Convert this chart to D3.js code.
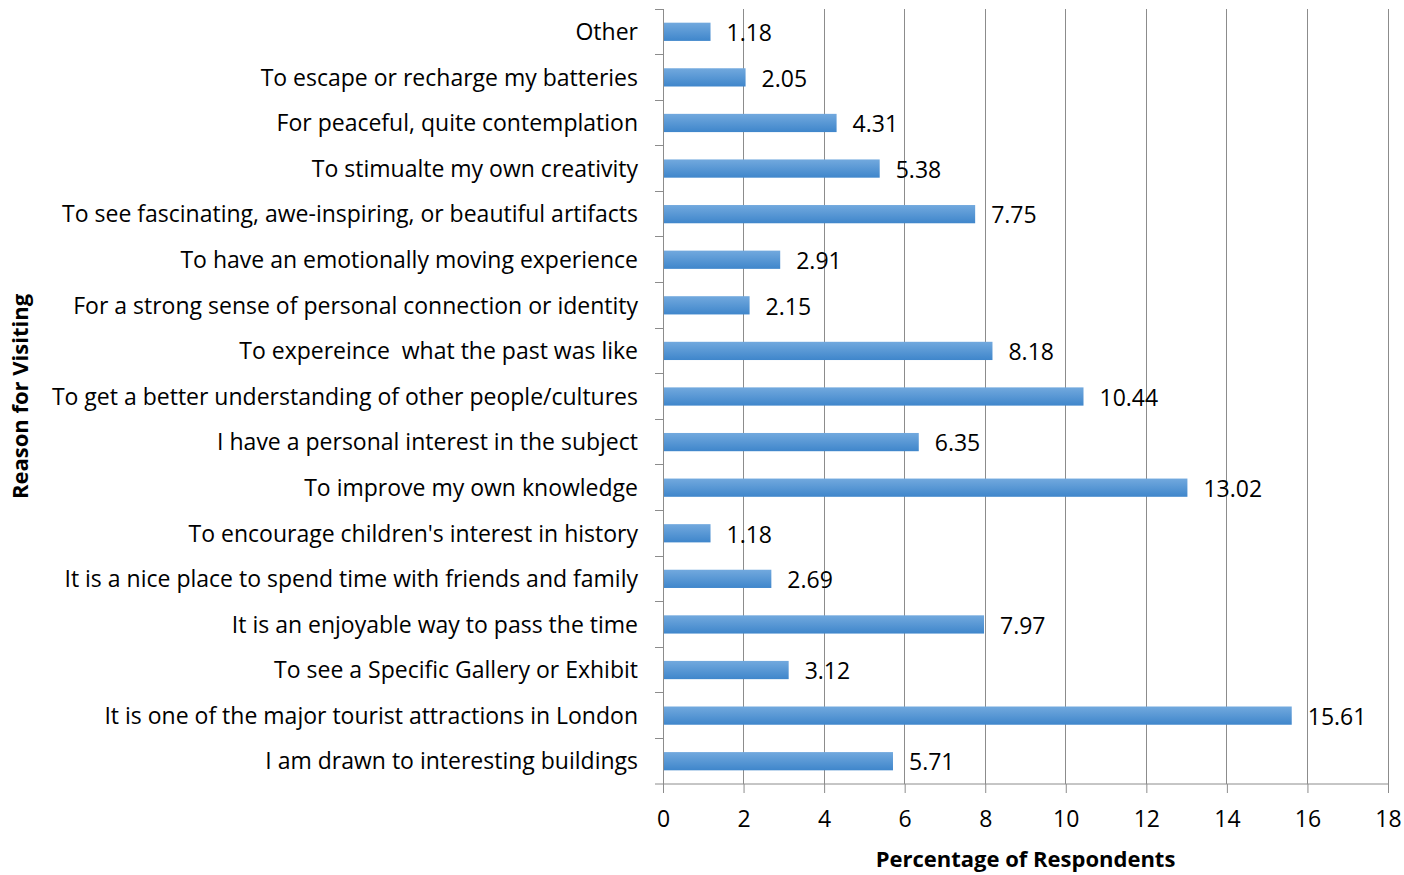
<!DOCTYPE html>
<html>
<head>
<meta charset="utf-8">
<script src="https://cdn.jsdelivr.net/npm/d3@7"></script>
<style>
  html, body { margin: 0; padding: 0; background: #fff; }
  svg { display: block; }
  text { font-family: "Open Sans", "Noto Sans", sans-serif; fill: #000; white-space: pre; }
</style>
</head>
<body>
<svg id="chart" width="1404" height="875"></svg>
<script>
// Reasons, listed top to bottom
const reasons = [
  "Other",
  "To escape or recharge my batteries",
  "For peaceful, quite contemplation",
  "To stimualte my own creativity",
  "To see fascinating, awe-inspiring, or beautiful artifacts",
  "To have an emotionally moving experience",
  "For a strong sense of personal connection or identity",
  "To expereince  what the past was like",
  "To get a better understanding of other people/cultures",
  "I have a personal interest in the subject",
  "To improve my own knowledge",
  "To encourage children's interest in history",
  "It is a nice place to spend time with friends and family",
  "It is an enjoyable way to pass the time",
  "To see a Specific Gallery or Exhibit",
  "It is one of the major tourist attractions in London",
  "I am drawn to interesting buildings"
];
const percentages = [1.18, 2.05, 4.31, 5.38, 7.75, 2.91, 2.15, 8.18, 10.44, 6.35, 13.02, 1.18, 2.69, 7.97, 3.12, 15.61, 5.71];
const xTicks = [0, 2, 4, 6, 8, 10, 12, 14, 16, 18];
const xTitle = "Percentage of Respondents";
const yTitle = "Reason for Visiting";

(function draw() {
  const svg = d3.select("#chart");
  const plotLeft = 663, plotRight = 1388, plotTop = 9, plotBottom = 784;

  const x = d3.scaleLinear().domain([0, 18]).range([plotLeft, plotRight]);
  const y = d3.scaleBand().domain(reasons).range([plotTop, plotBottom]).paddingInner(0.6).paddingOuter(0.3);
  const band = d3.scaleBand().domain(reasons).range([plotTop, plotBottom]);

  // bar gradient
  const defs = svg.append("defs");
  const grad = defs.append("linearGradient").attr("id", "barFill")
    .attr("x1", 0).attr("y1", 0).attr("x2", 0).attr("y2", 1);
  grad.append("stop").attr("offset", "0%").attr("stop-color", "#72a9de");
  grad.append("stop").attr("offset", "100%").attr("stop-color", "#3f86cb");

  // vertical gridlines
  svg.append("g").selectAll("line").data(xTicks.slice(1)).join("line")
    .attr("x1", d => x(d)).attr("x2", d => x(d))
    .attr("y1", plotTop).attr("y2", plotBottom)
    .attr("stroke", "#8c8c8c").attr("stroke-width", 1).attr("shape-rendering", "crispEdges");

  // bars
  svg.append("g").selectAll("rect").data(reasons).join("rect")
    .attr("x", x(0))
    .attr("y", d => y(d))
    .attr("width", (d, i) => x(percentages[i]) - x(0))
    .attr("height", y.bandwidth())
    .attr("fill", "url(#barFill)");

  // value labels
  svg.append("g").selectAll("text").data(reasons).join("text")
    .attr("x", (d, i) => x(percentages[i]) + 16)
    .attr("y", d => y(d) + y.bandwidth() / 2 + 1)
    .attr("dy", "0.36em")
    .attr("font-size", 23)
    .text((d, i) => percentages[i].toFixed(2));

  // x axis
  const xAxis = svg.append("g").attr("transform", `translate(0,${plotBottom})`)
    .call(d3.axisBottom(x).tickValues(xTicks).tickSize(9).tickPadding(18).tickFormat(d3.format("d")));
  xAxis.select(".domain").attr("stroke", "#8c8c8c").attr("d", `M${plotLeft - 8},0H${plotRight}`);
  xAxis.selectAll(".tick line").attr("stroke", "#8c8c8c");
  xAxis.selectAll(".tick text").attr("font-size", 23).attr("font-family", "Open Sans, sans-serif").attr("fill", "#000");

  // y axis: line with ticks at category boundaries
  const yAxis = svg.append("g");
  yAxis.append("line").attr("x1", plotLeft).attr("x2", plotLeft).attr("y1", plotTop).attr("y2", plotBottom)
    .attr("stroke", "#8c8c8c").attr("shape-rendering", "crispEdges");
  const boundaries = reasons.map(d => band(d));
  yAxis.selectAll("line.tk").data(boundaries).join("line").attr("class", "tk")
    .attr("x1", plotLeft - 8).attr("x2", plotLeft).attr("y1", d => d).attr("y2", d => d)
    .attr("stroke", "#8c8c8c").attr("shape-rendering", "crispEdges");

  // category labels
  svg.append("g").selectAll("text").data(reasons).join("text")
    .attr("x", 638)
    .attr("y", d => band(d) + band.bandwidth() / 2)
    .attr("dy", "0.36em")
    .attr("text-anchor", "end")
    .attr("font-size", 23)
    .text(d => d);

  // axis titles
  svg.append("text")
    .attr("x", (plotLeft + plotRight) / 2).attr("y", 867)
    .attr("text-anchor", "middle").attr("font-size", 22).attr("font-weight", "bold")
    .text(xTitle);
  svg.append("text")
    .attr("transform", `translate(28,${(plotTop + plotBottom) / 2}) rotate(-90)`)
    .attr("text-anchor", "middle").attr("font-size", 22).attr("font-weight", "bold")
    .text(yTitle);
})();
</script>
</body>
</html>
